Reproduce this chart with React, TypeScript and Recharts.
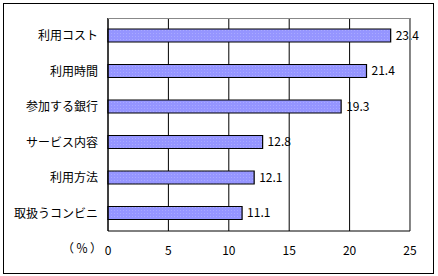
import { BarChart, Bar, XAxis, YAxis, CartesianGrid, LabelList } from "recharts";

const categories = ["利用コスト", "利用時間", "参加する銀行", "サービス内容", "利用方法", "取扱うコンビニ"];
const values = [23.4, 21.4, 19.3, 12.8, 12.1, 11.1];
const xTicks = [0, 5, 10, 15, 20, 25];
const boundaryTicks = [1, 2, 3, 4, 5];

const data = categories.map((name, i) => ({ name, value: values[i] }));

const font = "'Noto Sans CJK JP', 'Noto Sans', sans-serif";

export default function App() {
  return (
    <div style={{ position: "absolute", left: 0, top: 0, width: 438, height: 276, background: "#fff" }}>
      <div
        style={{
          position: "absolute",
          left: 3,
          top: 3,
          width: 429,
          height: 269,
          border: "1px solid #000",
        }}
      />
      <div style={{ position: "absolute", left: 0, top: 0 }}>
        <BarChart
          width={438}
          height={276}
          data={data}
          layout="vertical"
          margin={{ top: 18, right: 28, bottom: 0, left: 0 }}
          barSize={13}
        >
          <defs>
            <pattern id="dots" width="3" height="3" patternUnits="userSpaceOnUse">
              <rect width="3" height="3" fill="#9595ff" />
              <rect x="0" y="0" width="1" height="1" fill="#a9a9ff" />
            </pattern>
          </defs>
          <CartesianGrid horizontal={false} vertical={true} stroke="#000" strokeOpacity={1} />
          <XAxis
            type="number"
            domain={[0, 25]}
            ticks={xTicks}
            height={45}
            tickLine={false}
            tickSize={6}
            tickMargin={9}
            axisLine={{ stroke: "#000" }}
            tick={{ fill: "#000", fontSize: 12, fontFamily: font }}
          />
          <YAxis
            type="category"
            dataKey="name"
            width={108}
            tickLine={false}
            tickSize={0}
            tickMargin={10}
            axisLine={{ stroke: "#000" }}
            tick={{ fill: "#000", fontSize: 12, fontFamily: font }}
          />
          <YAxis
            yAxisId="bounds"
            type="number"
            domain={[0, 6]}
            ticks={boundaryTicks}
            mirror
            width={0}
            tickSize={4}
            axisLine={false}
            tickLine={{ stroke: "#000" }}
            tickFormatter={() => ""}
          />
          <Bar dataKey="value" fill="url(#dots)" stroke="#000" strokeWidth={1.2} isAnimationActive={false}>
            <LabelList
              dataKey="value"
              position="right"
              offset={5}
              fill="#000"
              fontSize={12}
              fontFamily={font}
              formatter={(v: number) => v.toFixed(1)}
            />
          </Bar>
        </BarChart>
      </div>
      {/* plot frame top/right in gray */}
      <div style={{ position: "absolute", left: 108, top: 18, width: 302, height: 0, borderTop: "1px solid #888" }} />
      <div style={{ position: "absolute", left: 410, top: 18, width: 0, height: 213, borderLeft: "1px solid #888" }} />
      <div
        style={{
          position: "absolute",
          left: 62,
          top: 241,
          fontSize: 12,
          fontFamily: font,
          lineHeight: "14px",
          letterSpacing: 2,
          color: "#000",
        }}
      >
        （％）
      </div>
    </div>
  );
}
